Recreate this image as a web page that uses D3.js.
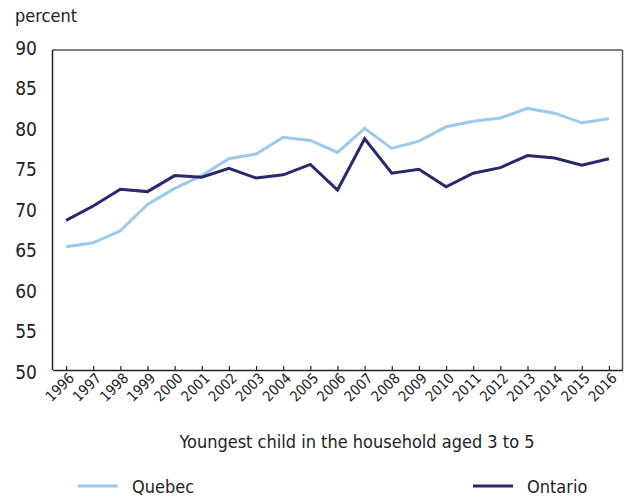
<!DOCTYPE html>
<html>
<head>
<meta charset="utf-8">
<script src="https://cdn.jsdelivr.net/npm/d3@7"></script>
<style>
  body { margin: 0; background: #fff; }
  text { font-family: "Liberation Sans Narrow", "DejaVu Sans Condensed", "Roboto Condensed", sans-serif; font-stretch: condensed; fill: #222; }
</style>
</head>
<body>
<div id="chart"></div>
<script>
var years = ["1996","1997","1998","1999","2000","2001","2002","2003","2004","2005","2006",
             "2007","2008","2009","2010","2011","2012","2013","2014","2015","2016"];
var quebec = [65.4, 65.9, 67.4, 70.7, 72.7, 74.3, 76.4, 77.0, 79.1, 78.7, 77.2,
              80.2, 77.7, 78.6, 80.4, 81.1, 81.5, 82.7, 82.1, 80.9, 81.4];
var ontario = [68.7, 70.5, 72.6, 72.3, 74.3, 74.1, 75.2, 74.0, 74.4, 75.7, 72.5,
               78.9, 74.6, 75.1, 72.9, 74.6, 75.3, 76.8, 76.5, 75.6, 76.4];
var yTicks = [50, 55, 60, 65, 70, 75, 80, 85, 90];

function draw()
{
  var width = 630, height = 497;
  var pLeft = 52.5, pRight = 622.5, pTop = 50, pBottom = 370;

  var svg = d3.select("#chart")
    .append("svg")
    .attr("width", width)
    .attr("height", height);

  var xScale = d3.scalePoint()
    .domain(years)
    .range([pLeft, pRight])
    .padding(0.5);

  var yScale = d3.scaleLinear()
    .domain([50, 90])
    .range([pBottom, pTop]);

  // the labels in the original sit a touch wider apart than the plot box
  var labelScale = d3.scaleLinear()
    .domain([50, 90])
    .range([pBottom + 2, pTop - 2]);

  // frame: top and right in grey, left and bottom dark
  svg.append("line")
    .attr("x1", pLeft).attr("x2", pRight).attr("y1", pTop).attr("y2", pTop)
    .style("stroke", "#555").style("stroke-width", 1.5);
  svg.append("line")
    .attr("x1", pRight).attr("x2", pRight).attr("y1", pTop).attr("y2", pBottom)
    .style("stroke", "#555").style("stroke-width", 1.5);

  var xAxis = d3.axisBottom(xScale).tickSizeInner(-4).tickSizeOuter(0).tickFormat("");
  svg.append("g")
    .attr("transform", "translate(0," + pBottom + ")")
    .call(xAxis)
    .call(function(g) {
      g.select(".domain").style("stroke", "#222").style("stroke-width", 1.5);
      g.selectAll(".tick line").style("stroke", "#222").style("stroke-width", 1.2);
    });

  svg.append("line")
    .attr("x1", pLeft).attr("x2", pLeft).attr("y1", pTop).attr("y2", pBottom)
    .style("stroke", "#222").style("stroke-width", 1.5);

  // y tick labels
  svg.selectAll(".ylab")
    .data(yTicks)
    .enter()
    .append("text")
      .attr("class", "ylab")
      .attr("x", 37)
      .attr("y", function(d) {return labelScale(d);})
      .attr("dy", "0.36em")
      .style("text-anchor", "end")
      .style("font-size", "19px")
      .text(function(d) {return d;});

  // x tick labels, rotated
  svg.selectAll(".xlab")
    .data(years)
    .enter()
    .append("text")
      .attr("class", "xlab")
      .attr("transform", function(d) {
        return "translate(" + (xScale(d) + 9) + "," + (pBottom + 9) + ") rotate(-45)";
      })
      .style("text-anchor", "end")
      .style("font-size", "14.5px")
      .text(function(d) {return d;});

  var line = d3.line()
    .x(function(d, i) {return xScale(years[i]);})
    .y(function(d) {return yScale(d);});

  svg.append("path")
    .attr("d", line(quebec))
    .style("fill", "none")
    .style("stroke", "#9cc9ec")
    .style("stroke-width", 3);

  svg.append("path")
    .attr("d", line(ontario))
    .style("fill", "none")
    .style("stroke", "#28286e")
    .style("stroke-width", 3);

  // captions
  svg.append("text")
    .attr("x", 15)
    .attr("y", 22)
    .style("font-size", "18px")
    .text("percent");

  svg.append("text")
    .attr("x", 357)
    .attr("y", 448)
    .style("text-anchor", "middle")
    .style("font-size", "18px")
    .text("Youngest child in the household aged 3 to 5");

  // legend
  var legend = svg.append("g").attr("class", "legend");
  var items = [
    {name: "Quebec", color: "#9cc9ec", x: 78},
    {name: "Ontario", color: "#28286e", x: 473}
  ];
  items.forEach(function(it) {
    legend.append("line")
      .attr("x1", it.x).attr("x2", it.x + 40)
      .attr("y1", 486).attr("y2", 486)
      .style("stroke", it.color).style("stroke-width", 3);
    legend.append("text")
      .attr("x", it.x + 54)
      .attr("y", 493)
      .style("font-size", "18px")
      .text(it.name);
  });
}

draw();
</script>
</body>
</html>
